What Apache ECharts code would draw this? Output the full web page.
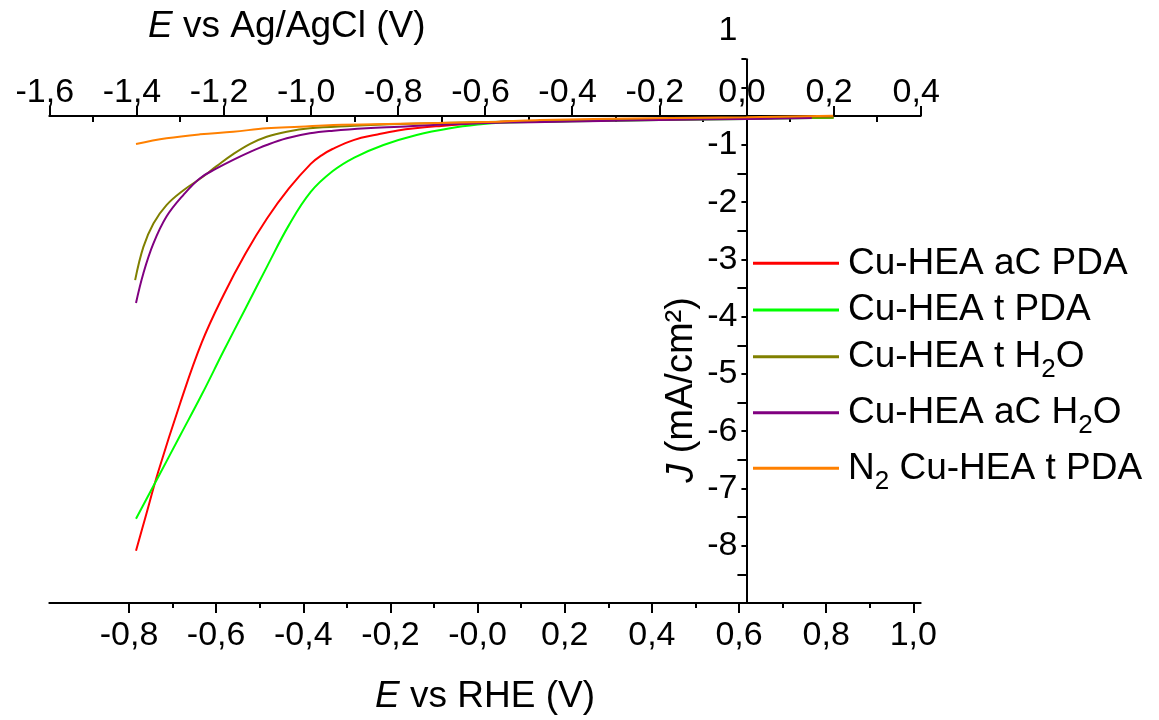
<!DOCTYPE html>
<html>
<head>
<meta charset="utf-8">
<script src="https://cdn.jsdelivr.net/npm/echarts@6/dist/echarts.min.js"></script>
<style>
  html, body { margin: 0; padding: 0; background: #ffffff; }
  #chart { width: 1159px; height: 720px; }
</style>
</head>
<body>
<div id="chart"></div>
<script>
// Linear sweep voltammograms: potential (V vs Ag/AgCl) and current density J (mA/cm²)
const aCPdaE = [-1.401, -1.38, -1.35, -1.30, -1.25, -1.20, -1.15, -1.10, -1.05, -1.00, -0.975, -0.95, -0.90, -0.85, -0.80, -0.75, -0.70, -0.65, -0.60, -0.55, -0.40, -0.20, 0.00, 0.20];
const aCPdaJ = [-8.09, -7.52, -6.71, -5.52, -4.45, -3.62, -2.90, -2.28, -1.76, -1.33, -1.18, -1.07, -0.91, -0.82, -0.745, -0.70, -0.667, -0.638, -0.612, -0.590, -0.57, -0.55, -0.535, -0.52];

const tPdaE = [-1.401, -1.35, -1.30, -1.25, -1.20, -1.15, -1.10, -1.05, -1.00, -0.95, -0.90, -0.833, -0.757, -0.680, -0.604, -0.566, -0.50, -0.40, -0.20, 0.00, 0.20];
const tPdaJ = [-7.53, -6.80, -6.08, -5.36, -4.60, -3.86, -3.12, -2.40, -1.82, -1.46, -1.22, -1.00, -0.825, -0.708, -0.633, -0.610, -0.60, -0.585, -0.565, -0.545, -0.525];

const tH2oE = [-1.403, -1.384, -1.361, -1.331, -1.292, -1.254, -1.216, -1.178, -1.139, -1.101, -1.055, -1.002, -0.910, -0.795, -0.566, -0.40, -0.20, 0.00, 0.20];
const tH2oJ = [-3.36, -2.78, -2.37, -2.05, -1.79, -1.59, -1.37, -1.16, -0.98, -0.855, -0.768, -0.708, -0.668, -0.633, -0.593, -0.575, -0.555, -0.535, -0.52];

const aCH2oE = [-1.401, -1.384, -1.361, -1.331, -1.292, -1.254, -1.216, -1.178, -1.139, -1.101, -1.055, -1.002, -0.948, -0.872, -0.795, -0.719, -0.566, -0.40, -0.20, 0.00, 0.15];
const aCH2oJ = [-3.76, -3.24, -2.72, -2.25, -1.87, -1.58, -1.41, -1.26, -1.12, -1.00, -0.883, -0.796, -0.750, -0.708, -0.680, -0.651, -0.610, -0.59, -0.565, -0.545, -0.53];

const n2PdaE = [-1.401, -1.331, -1.254, -1.178, -1.101, -1.025, -0.948, -0.795, -0.566, -0.474, -0.228, 0.00, 0.199];
const n2PdaJ = [-0.983, -0.883, -0.813, -0.768, -0.708, -0.680, -0.651, -0.630, -0.593, -0.563, -0.534, -0.516, -0.488];

const seriesNames = ['Cu-HEA aC PDA', 'Cu-HEA t PDA', 'Cu-HEA t H2O', 'Cu-HEA aC H2O', 'N2 Cu-HEA t PDA'];
const legendLabels = ['Cu-HEA aC PDA', 'Cu-HEA t PDA', 'Cu-HEA t H{sub|2}O', 'Cu-HEA aC H{sub|2}O', 'N{sub|2} Cu-HEA t PDA'];
const seriesColors = ['#ff0000', '#00ff00', '#808000', '#800080', '#ff8000'];
const curves = [[aCPdaE, aCPdaJ], [tPdaE, tPdaJ], [tH2oE, tH2oJ], [aCH2oE, aCH2oJ], [n2PdaE, n2PdaJ]];

// Axis ranges
const agAgClRange = [-1.6, 0.4];   // top axis, V vs Ag/AgCl
const rheTickRange = [-0.8, 1.0];  // bottom axis ticks, V vs RHE
const jLineRange = [-9, 0.5];      // drawn J axis
const jLabelRange = [-9, 1];       // J tick labels

const FONT = "'Liberation Sans', Arial, sans-serif";
const INK = '#000000';
const axisStroke = { color: INK, width: 2 };
const TICK_FONT = 34;
const TEXT_FONT = 37;

function zip(xs, ys) { return xs.map((x, i) => [x, ys[i]]); }
function commaFmt(v) { return (v < 0 ? '-' : '') + Math.abs(v).toFixed(1).replace('.', ','); }

const chart = echarts.init(document.getElementById('chart'), null, { renderer: 'canvas' });

const legendCenters = [263.3, 310, 356.7, 412.7, 468.3];

chart.setOption({
  animation: false,
  backgroundColor: '#ffffff',
  title: [{
    text: '{i|E} vs Ag/AgCl (V)',
    left: 148, top: 8, padding: 0,
    textStyle: {
      fontSize: TEXT_FONT, fontWeight: 'normal', fontFamily: FONT, color: INK,
      rich: { i: { fontStyle: 'italic', fontSize: TEXT_FONT, fontFamily: FONT, color: INK } }
    }
  }],
  grid: [
    { left: 49.3, right: 238.3, top: 59.14, bottom: 117.1 },
    { left: 129.0, right: 245.7, top: 30.52, bottom: 117.1 }
  ],
  xAxis: [
    {
      gridIndex: 0, type: 'value', min: agAgClRange[0], max: agAgClRange[1], interval: 0.2,
      position: 'top', offset: -56.9,
      axisLine: { show: true, onZero: false, lineStyle: axisStroke },
      axisTick: { show: true, inside: false, length: 10, lineStyle: axisStroke },
      minorTick: { show: true, splitNumber: 2, length: -6, lineStyle: axisStroke },
      axisLabel: {
        fontSize: TICK_FONT, fontFamily: FONT, color: INK, margin: 6, padding: [0, 9, 0, 0],
        showMinLabel: true, showMaxLabel: true,
        formatter: v => Math.abs(v) < 1e-9 ? '0,0' : commaFmt(v)
      },
      splitLine: { show: false }
    },
    {
      gridIndex: 0, type: 'value', min: agAgClRange[0], max: agAgClRange[1],
      position: 'bottom',
      axisLine: { show: true, onZero: false, lineStyle: axisStroke },
      axisTick: { show: false }, axisLabel: { show: false }, splitLine: { show: false },
      name: '{i|E} vs RHE (V)', nameLocation: 'middle', nameGap: 75,
      nameTextStyle: {
        fontSize: TEXT_FONT, fontFamily: FONT, color: INK,
        rich: { i: { fontStyle: 'italic', fontSize: TEXT_FONT, fontFamily: FONT, color: INK } }
      }
    },
    {
      gridIndex: 1, type: 'value', min: rheTickRange[0], max: rheTickRange[1], interval: 0.2,
      position: 'bottom',
      axisLine: { show: false, onZero: false },
      axisTick: { show: true, inside: false, length: 10, lineStyle: axisStroke },
      minorTick: { show: true, splitNumber: 2, length: 5, lineStyle: axisStroke },
      axisLabel: {
        fontSize: TICK_FONT, fontFamily: FONT, color: INK, margin: 16,
        showMinLabel: true, showMaxLabel: true,
        formatter: v => Math.abs(v) < 1e-9 ? '-0,0' : commaFmt(v)
      },
      splitLine: { show: false }
    }
  ],
  yAxis: [
    {
      gridIndex: 0, type: 'value', min: jLineRange[0], max: jLineRange[1], interval: 1,
      position: 'left',
      axisLine: { show: true, onZero: true, lineStyle: axisStroke },
      axisTick: { show: true, inside: false, length: 5, lineStyle: axisStroke },
      minorTick: { show: true, splitNumber: 2, length: 9, lineStyle: axisStroke },
      axisLabel: { show: false },
      splitLine: { show: false }
    },
    {
      gridIndex: 1, type: 'value', min: jLabelRange[0], max: jLabelRange[1], interval: 1,
      position: 'left', offset: -617.4,
      axisLine: { show: false, onZero: false },
      axisTick: { show: false },
      axisLabel: {
        fontSize: TICK_FONT, fontFamily: FONT, color: INK, margin: 9,
        showMinLabel: true, showMaxLabel: true,
        formatter: v => (v === jLabelRange[0] || v === 0) ? '' : String(v)
      },
      splitLine: { show: false }
    }
  ],
  legend: seriesNames.map((name, i) => ({
    data: [name],
    left: 753, top: legendCenters[i] - 18.5,
    orient: 'vertical', padding: 0,
    itemWidth: 86, itemHeight: 3, icon: 'rect',
    selectedMode: false,
    formatter: () => legendLabels[i],
    textStyle: {
      fontSize: TEXT_FONT, fontFamily: FONT, color: INK, padding: [0, 0, 0, 4],
      rich: { sub: { fontSize: 26, fontFamily: FONT, color: INK, height: 10, verticalAlign: 'bottom' } }
    }
  })),
  graphic: [{
    type: 'text', x: 682, y: 390, rotation: Math.PI / 2,
    style: {
      text: '{i|J} (mA/cm²)',
      fontSize: 38, fontFamily: FONT, fill: INK,
      align: 'center', verticalAlign: 'middle',
      rich: { i: { fontStyle: 'italic', fontSize: 38, fontFamily: FONT, fill: INK } }
    }
  }],
  series: seriesNames.map((name, i) => ({
    name, type: 'line', xAxisIndex: 0, yAxisIndex: 0,
    data: zip(curves[i][0], curves[i][1]),
    symbol: 'none', showSymbol: false,
    smooth: 0.4,
    lineStyle: { color: seriesColors[i], width: 2 },
    itemStyle: { color: seriesColors[i] },
    silent: true, z: 2 + i
  }))
});
</script>
</body>
</html>
